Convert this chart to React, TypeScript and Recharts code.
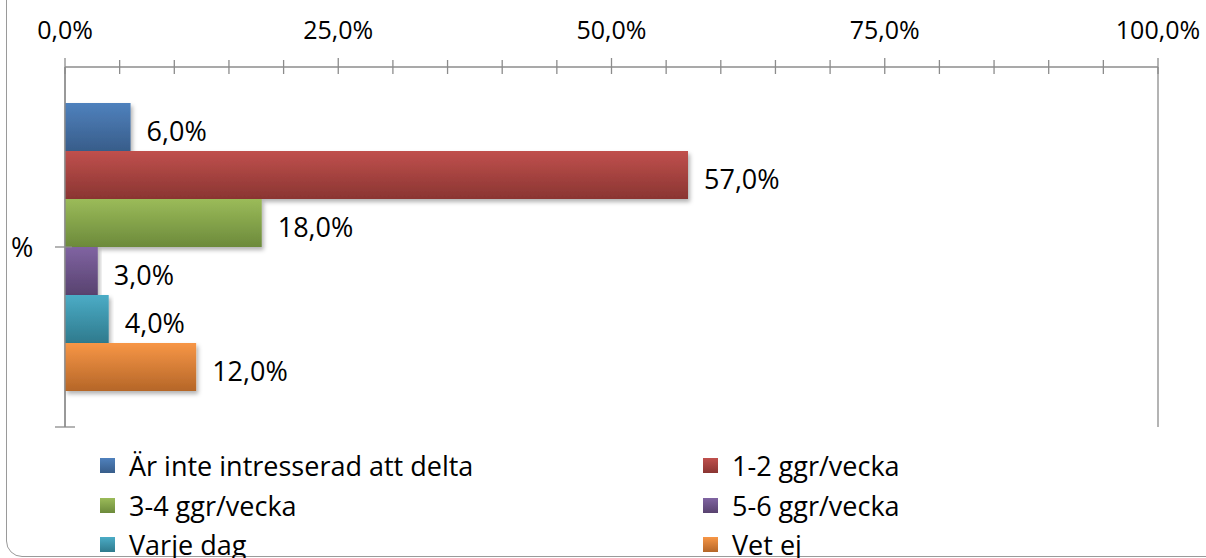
import { BarChart, Bar, XAxis, YAxis, CartesianGrid, LabelList } from "recharts";

const categories = ["%"];
const seriesNames = [
  "Är inte intresserad att delta",
  "1-2 ggr/vecka",
  "3-4 ggr/vecka",
  "5-6 ggr/vecka",
  "Varje dag",
  "Vet ej",
];
const seriesValues = [6, 57, 18, 3, 4, 12];
const minorTicks = [0, 5, 10, 15, 20, 25, 30, 35, 40, 45, 50, 55, 60, 65, 70, 75, 80, 85, 90, 95, 100];
const majorTicks = [0, 25, 50, 75, 100];

// [top, bottom] gradient colours per series
const COLORS: [string, string][] = [
  ["#4f81bd", "#385d8a"],
  ["#c0504d", "#8a3532"],
  ["#9bbb59", "#6c8a3b"],
  ["#8064a2", "#58426f"],
  ["#4bacc6", "#2f7a8d"],
  ["#f79646", "#b56628"],
];

const FONT = "'Open Sans', 'Noto Sans', sans-serif";
const W = 1206;
const H = 558;
const PLOT_TOP = 67;
const PLOT_BOTTOM = 427;

const data = categories.map((c) => {
  const row: Record<string, string | number> = { name: c };
  seriesValues.forEach((v, i) => (row[`s${i}`] = v));
  return row;
});

const fmt = (v: number) => `${v.toFixed(1).replace(".", ",")}%`;

function TopTick(props: any) {
  const { x, y, payload } = props;
  const major = payload.value % 25 === 0;
  return (
    <g>
      <line x1={x} x2={x} y1={y - (major ? 9 : 7)} y2={y + 7} stroke="#8c8c8c" strokeWidth={1.3} />
      {major && (
        <text x={x} y={y - 28} textAnchor="middle" fontSize={25} fontFamily={FONT} fill="#000">
          {fmt(payload.value)}
        </text>
      )}
    </g>
  );
}

function LeftTick(props: any) {
  const { x, y, payload } = props;
  const band = (PLOT_BOTTOM - PLOT_TOP) / categories.length;
  return (
    <g>
      <line x1={x - 10} x2={x + 7} y1={y} y2={y} stroke="#8c8c8c" strokeWidth={1.3} />
      <line x1={x - 10} x2={x + 10} y1={y + band / 2} y2={y + band / 2} stroke="#8c8c8c" strokeWidth={1.3} />
      <text x={x - 54} y={y + 10} fontSize={27} fontFamily={FONT} fill="#000">
        {payload.value}
      </text>
    </g>
  );
}

function ChartLegend() {
  return (
    <div
      style={{
        position: "absolute",
        left: 100,
        top: 446,
        display: "grid",
        gridTemplateColumns: "603px 400px",
        fontFamily: FONT,
        fontSize: 27,
        color: "#000",
      }}
    >
      {seriesNames.map((n, i) => (
        <div key={n} style={{ display: "flex", alignItems: "center", height: 39.5, whiteSpace: "nowrap" }}>
          <span
            style={{
              width: 15,
              height: 15,
              marginRight: 14,
              flex: "none",
              background: `linear-gradient(${COLORS[i][0]}, ${COLORS[i][1]})`,
            }}
          />
          <span>{n}</span>
        </div>
      ))}
    </div>
  );
}

export default function App() {
  return (
    <div style={{ position: "fixed", left: 0, top: 0, width: W, height: H, background: "#fff", overflow: "hidden" }}>
      <div
        style={{
          position: "absolute",
          left: 6,
          top: -40,
          width: 1300,
          height: 597,
          border: "1.5px solid #9a9a9a",
          borderRadius: 16,
          boxSizing: "border-box",
        }}
      />
      <BarChart
        width={W}
        height={H}
        data={data}
        layout="vertical"
        margin={{ top: PLOT_TOP - 30, right: 48, bottom: H - PLOT_BOTTOM, left: 5 }}
        barCategoryGap="10%"
        barGap={0}
        style={{ position: "absolute", left: 0, top: 0 }}
      >
        <defs>
          {COLORS.map((c, i) => (
            <linearGradient key={i} id={`g${i}`} x1="0" y1="0" x2="0" y2="1">
              <stop offset="0%" stopColor={c[0]} />
              <stop offset="100%" stopColor={c[1]} />
            </linearGradient>
          ))}
          <filter id="shadow" x="-5%" y="-20%" width="115%" height="160%">
            <feDropShadow dx="2" dy="3" stdDeviation="2" floodColor="#000" floodOpacity="0.3" />
          </filter>
        </defs>
        <XAxis xAxisId="grid" type="number" domain={[0, 100]} ticks={majorTicks} hide />
        <CartesianGrid xAxisId="grid" horizontal={false} stroke="#8c8c8c" strokeWidth={1.3} />
        <XAxis
          type="number"
          orientation="top"
          domain={[0, 100]}
          ticks={minorTicks}
          interval={0}
          height={30}
          tickSize={0}
          tickMargin={0}
          tickLine={false}
          axisLine={{ stroke: "#8c8c8c", strokeWidth: 1.3 }}
          tick={<TopTick />}
        />
        <YAxis
          type="category"
          dataKey="name"
          width={60}
          tickSize={0}
          tickMargin={0}
          tickLine={false}
          axisLine={{ stroke: "#8c8c8c", strokeWidth: 1.3 }}
          tick={<LeftTick />}
        />
        {seriesNames.map((n, i) => (
          <Bar
            key={n}
            dataKey={`s${i}`}
            name={n}
            fill={`url(#g${i})`}
            filter="url(#shadow)"
            isAnimationActive={false}
          >
            <LabelList
              dataKey={`s${i}`}
              position="right"
              offset={16}
              formatter={(v: any) => fmt(Number(v))}
              style={{ fontSize: 27, fontFamily: FONT, fill: "#000" }}
              dy={4}
            />
          </Bar>
        ))}
      </BarChart>
      <ChartLegend />
    </div>
  );
}
